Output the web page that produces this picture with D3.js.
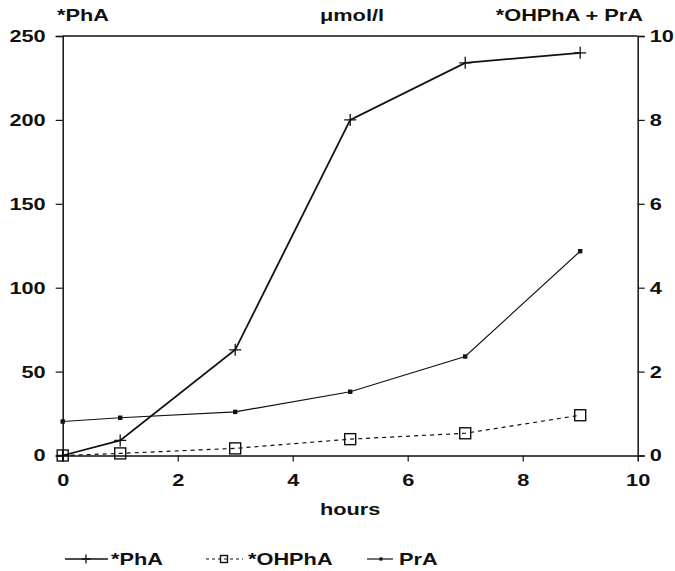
<!DOCTYPE html>
<html lang="en">
    <head>
        <meta charset="utf-8">
        <title>D3</title>
        <script type="text/javascript" src="https://cdnjs.cloudflare.com/ajax/libs/d3/7.8.5/d3.min.js"></script>
        <style type="text/css">
            body { margin: 0; background: #fff; }
            text { font-family: "Liberation Sans", Arial, sans-serif; font-weight: bold; fill: #111; }
        </style>
    </head>
    <body>
        <script type="text/javascript">
            var w = 675;
            var h = 571;

            // data
            var hours = [0, 1, 3, 5, 7, 9];
            var phA = [0, 9, 63, 200, 234, 240];          // left axis
            var ohphA = [0, 0.05, 0.17, 0.39, 0.53, 0.96]; // right axis
            var prA = [0.81, 0.9, 1.04, 1.52, 2.36, 4.87]; // right axis
            var xTicks = [0, 2, 4, 6, 8, 10];
            var leftTicks = [0, 50, 100, 150, 200, 250];
            var rightTicks = [0, 2, 4, 6, 8, 10];

            var sx = 1.28; // the scanned lettering is wide
            var fs = "17px";

            var x = d3.scaleLinear().domain([0, 10]).range([62.7, 637.7]);
            var yL = d3.scaleLinear().domain([0, 250]).range([455.5, 36]);
            var yR = d3.scaleLinear().domain([0, 10]).range([455.5, 36]);

            var svg = d3.select("body")
                        .append("svg")
                        .attr("width", w)
                        .attr("height", h);

            function label(px, py, str, anchor) {
                svg.append("text")
                   .attr("transform", "translate(" + px + "," + py + ") scale(" + sx + ",1)")
                   .attr("text-anchor", anchor)
                   .attr("font-size", fs)
                   .text(str);
            }

            // axes
            var gL = svg.append("g")
                        .attr("transform", "translate(" + x(0) + ",0)")
                        .call(d3.axisLeft(yL).tickValues(leftTicks).tickSize(7).tickPadding(10));
            var gR = svg.append("g")
                        .attr("transform", "translate(" + x(10) + ",0)")
                        .call(d3.axisRight(yR).tickValues(rightTicks).tickSize(7).tickPadding(6));
            var gB = svg.append("g")
                        .attr("transform", "translate(0," + yL(0) + ")")
                        .call(d3.axisBottom(x).tickValues(xTicks).tickSize(6).tickPadding(12));

            svg.selectAll(".domain").attr("stroke", "#111").attr("stroke-width", 1.5);
            svg.selectAll(".tick line").attr("stroke", "#111").attr("stroke-width", 1.2);
            gB.select(".tick:first-child line").remove();
            gB.select(".tick:last-child line").remove();
            svg.selectAll(".tick text")
               .attr("font-size", fs)
               .attr("font-family", "Liberation Sans, Arial, sans-serif")
               .attr("font-weight", "bold")
               .attr("fill", "#111");
            gL.selectAll(".tick text").attr("transform", "scale(" + sx + ",1)").attr("x", -17 / sx);
            gR.selectAll(".tick text").attr("transform", "scale(" + sx + ",1)").attr("x", 12 / sx);
            gB.selectAll(".tick text").attr("transform", "scale(" + sx + ",1)");

            // top frame
            svg.append("line")
               .attr("x1", x(0)).attr("x2", x(10))
               .attr("y1", yL(250)).attr("y2", yL(250))
               .attr("stroke", "#111").attr("stroke-width", 1.5);

            // titles
            label(57, 21, "*PhA", "start");
            label(352, 21, "\u03bcmol/l", "middle");
            label(643, 21, "*OHPhA + PrA", "end");
            label(x(5), 515, "hours", "middle");

            // lines
            var linePh = d3.line().x(function (d, i) { return x(hours[i]); }).y(function (d) { return yL(d); });
            var lineR = d3.line().x(function (d, i) { return x(hours[i]); }).y(function (d) { return yR(d); });

            svg.append("path").attr("d", lineR(prA))
               .attr("fill", "none").attr("stroke", "#111").attr("stroke-width", 1.2);
            svg.append("path").attr("d", lineR(ohphA))
               .attr("fill", "none").attr("stroke", "#111").attr("stroke-width", 1.2)
               .attr("stroke-dasharray", "4,4");
            svg.append("path").attr("d", linePh(phA))
               .attr("fill", "none").attr("stroke", "#111").attr("stroke-width", 1.8);

            function plus(cx, cy, s) {
                svg.append("path")
                   .attr("d", "M" + (cx - s) + "," + cy + "H" + (cx + s) + "M" + cx + "," + (cy - s) + "V" + (cy + s))
                   .attr("stroke", "#111").attr("stroke-width", 1.3);
            }
            function box(cx, cy, s) {
                svg.append("rect")
                   .attr("x", cx - s).attr("y", cy - s).attr("width", 2 * s).attr("height", 2 * s)
                   .attr("fill", "none").attr("stroke", "#111").attr("stroke-width", 1.4);
            }
            function dot(cx, cy, s) {
                svg.append("rect")
                   .attr("x", cx - s).attr("y", cy - s).attr("width", 2 * s).attr("height", 2 * s)
                   .attr("fill", "#111");
            }

            phA.forEach(function (d, i) { plus(x(hours[i]), yL(d), 6); });
            ohphA.forEach(function (d, i) { box(x(hours[i]), yR(d), 5.5); });
            prA.forEach(function (d, i) { dot(x(hours[i]), yR(d), 2.2); });

            // legend
            var ly = 559;
            svg.append("line").attr("x1", 65).attr("x2", 108).attr("y1", ly).attr("y2", ly)
               .attr("stroke", "#111").attr("stroke-width", 1.5);
            plus(86, ly, 4.5);
            label(111, ly + 6, "*PhA", "start");

            svg.append("line").attr("x1", 206).attr("x2", 243).attr("y1", ly).attr("y2", ly)
               .attr("stroke", "#111").attr("stroke-width", 1.2).attr("stroke-dasharray", "3,3");
            box(224, ly, 3.5);
            label(248, ly + 6, "*OHPhA", "start");

            svg.append("line").attr("x1", 367).attr("x2", 393).attr("y1", ly).attr("y2", ly)
               .attr("stroke", "#111").attr("stroke-width", 1.2);
            dot(381, ly, 1.6);
            label(399, ly + 6, "PrA", "start");
        </script>
    </body>
</html>
